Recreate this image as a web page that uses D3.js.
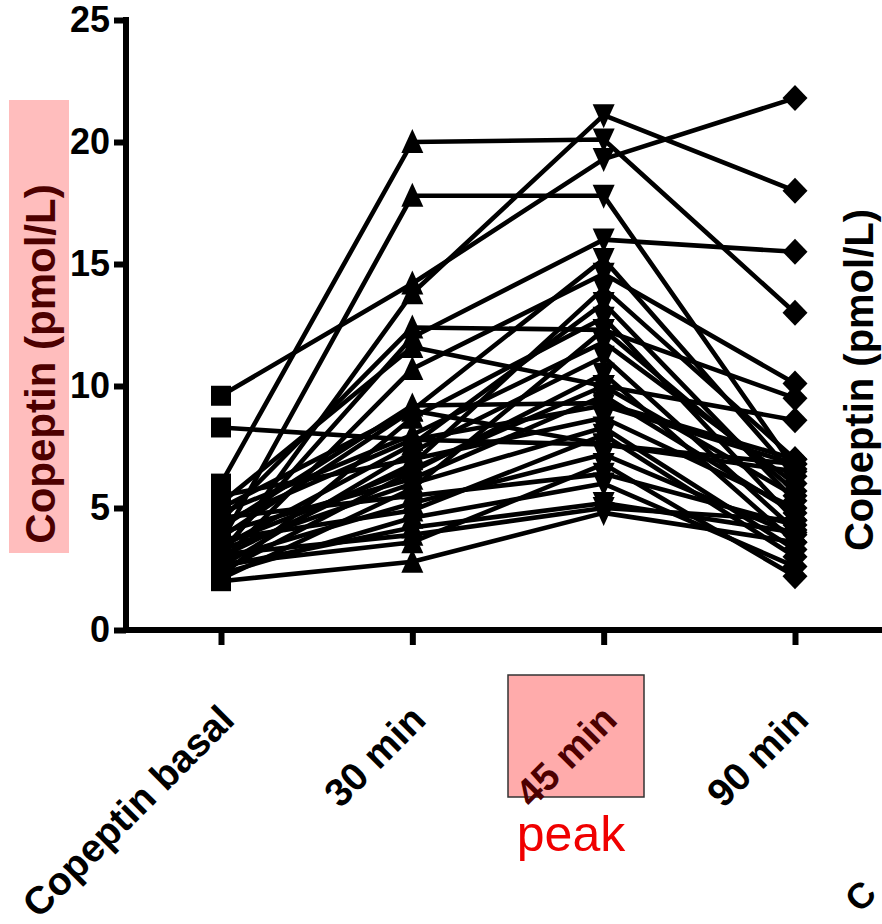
<!DOCTYPE html>
<html>
<head>
<meta charset="utf-8">
<script src="https://cdn.jsdelivr.net/npm/d3@7"></script>
<style>
  body { margin: 0; background: #ffffff; }
  svg { display: block; font-family: "Liberation Sans", Arial, sans-serif; }
</style>
</head>
<body>
<svg></svg>
<script>
// copeptin per subject at each time point (pmol/L)
var categories = ['Copeptin basal', '30 min', '45 min', '90 min']
var yTicks = [0, 5, 10, 15, 20, 25]

var basal = [9.6, 8.3, 6.0, 3.6, 3.0, 4.5, 3.2, 5.2, 2.8, 4.2, 3.8, 2.2, 4.8, 3.4, 2.6, 5.5, 3.0, 2.4, 4.0, 3.3, 2.1, 4.6, 2.9, 3.7, 2.3, 3.1, 2.7, 2.0, 4.4, 3.5, 2.6, 5.0]
var min30 = [14.2, 7.8, 20.0, 17.8, 13.8, 12.4, 12.0, 11.6, 10.7, 9.2, 9.0, 8.7, 8.0, 7.6, 7.3, 7.0, 6.8, 6.5, 6.2, 6.0, 5.8, 5.5, 5.2, 4.9, 4.6, 3.9, 3.6, 2.8, 7.8, 6.6, 4.2, 9.0]
var min45 = [19.3, 7.6, 20.1, 17.8, 21.1, 12.3, 16.0, 10.0, 14.6, 9.3, 15.2, 12.8, 11.8, 13.4, 11.2, 8.7, 14.0, 10.5, 9.6, 8.3, 12.3, 6.4, 7.2, 8.0, 6.0, 5.0, 6.8, 4.8, 9.2, 10.0, 5.2, 7.6]
var min90 = [21.8, 6.8, 13.0, 6.6, 18.0, 9.5, 15.5, 8.6, 10.1, 7.0, 6.3, 4.5, 6.0, 5.3, 4.1, 5.0, 7.0, 3.6, 4.8, 3.3, 5.7, 4.3, 3.9, 3.0, 2.6, 4.5, 2.2, 3.6, 6.8, 5.5, 4.0, 6.5]

var svgWidth = 882, svgHeight = 924

var svg = d3.select('svg')
    .attr('width', svgWidth)
    .attr('height', svgHeight)

svg.append('rect').attr('width', svgWidth).attr('height', svgHeight).attr('fill', '#fff')

var xScale = d3.scalePoint()
    .domain(categories)
    .range([221, 795])

var yScale = d3.scaleLinear()
    .domain([0, 25])
    .range([630, 20])

// subjects: one row per person, value per time point
var series = [basal, min30, min45, min90]
var subjects = basal.map(function(d, i) {
    return series.map(function(s, j) { return { cat: categories[j], v: s[i] } })
})

// pink highlight behind left axis title
svg.append('rect')
    .attr('x', 9).attr('y', 100)
    .attr('width', 60).attr('height', 453)
    .attr('fill', '#ffbdbd')

// pink box behind "45 min"
svg.append('rect')
    .attr('x', 508).attr('y', 675)
    .attr('width', 136).attr('height', 122)
    .attr('fill', '#ffabab')
    .attr('stroke', '#333').attr('stroke-width', 1.5)

// y axis
var yAxis = svg.append('g')
    .attr('transform', 'translate(126,0)')
    .call(d3.axisLeft(yScale).tickValues(yTicks).tickSize(12).tickSizeOuter(0).tickPadding(4))
yAxis.select('.domain').attr('stroke-width', 6).attr('d', 'M0,' + (yScale(25) - 3) + 'V' + (yScale(0) + 3))
yAxis.selectAll('.tick line').attr('stroke-width', 6)
yAxis.selectAll('.tick text')
    .attr('font-size', 36).attr('font-weight', 'bold').attr('fill', '#000')
    .attr('font-family', '"Liberation Sans", Arial, sans-serif')

// x axis
var xAxis = svg.append('g')
    .attr('transform', 'translate(0,630)')
    .call(d3.axisBottom(xScale).tickSize(15).tickSizeOuter(0))
xAxis.select('.domain').attr('stroke-width', 6).attr('d', 'M123,0H' + (svgWidth + 5))
xAxis.selectAll('.tick line').attr('stroke-width', 6)
xAxis.selectAll('.tick text')
    .attr('font-size', 39).attr('font-weight', 'bold')
    .attr('font-family', '"Liberation Sans", Arial, sans-serif')
    .attr('fill', function(d) { return d === '45 min' ? '#4d0000' : '#000' })
    .attr('text-anchor', 'end')
    .attr('y', 0).attr('dy', 0)
    .attr('transform', 'translate(15,92) rotate(-45)')

// lines
var line = d3.line()
    .x(function(d) { return xScale(d.cat) })
    .y(function(d) { return yScale(d.v) })

svg.append('g').selectAll('path')
    .data(subjects)
    .enter()
    .append('path')
    .attr('d', line)
    .attr('fill', 'none')
    .attr('stroke', '#000')
    .attr('stroke-width', 4.6)
    .attr('stroke-linejoin', 'round')

// markers, one shape per time point
var shapes = {
    'Copeptin basal': 'M-10,-10H10V10H-10Z',
    '30 min': 'M0,-13L11,11H-11Z',
    '45 min': 'M0,13L11,-11H-11Z',
    '90 min': 'M0,-13L12.5,0L0,13L-12.5,0Z'
}
var points = []
subjects.forEach(function(s) { s.forEach(function(p) { points.push(p) }) })

svg.append('g').selectAll('path')
    .data(points)
    .enter()
    .append('path')
    .attr('d', function(d) { return shapes[d.cat] })
    .attr('transform', function(d) { return 'translate(' + xScale(d.cat) + ',' + yScale(d.v) + ')' })
    .attr('fill', '#000')

// axis titles
svg.append('text')
    .attr('transform', 'translate(55,364) rotate(-90)')
    .attr('text-anchor', 'middle')
    .attr('font-size', 42).attr('font-weight', 'bold')
    .attr('fill', '#4d0000')
    .text('Copeptin (pmol/L)')

svg.append('text')
    .attr('transform', 'translate(873,380) rotate(-90)')
    .attr('text-anchor', 'middle')
    .attr('font-size', 40).attr('font-weight', 'bold')
    .attr('fill', '#000')
    .text('Copeptin (pmol/L)')

// first letter of the neighbouring panel's label
svg.append('text')
    .attr('transform', 'translate(860,914) rotate(-45)')
    .attr('font-size', 36).attr('font-weight', 'bold')
    .text('C')

svg.append('text')
    .attr('x', 571).attr('y', 851)
    .attr('text-anchor', 'middle')
    .attr('font-size', 50)
    .attr('fill', '#f00000')
    .text('peak')
</script>
</body>
</html>
